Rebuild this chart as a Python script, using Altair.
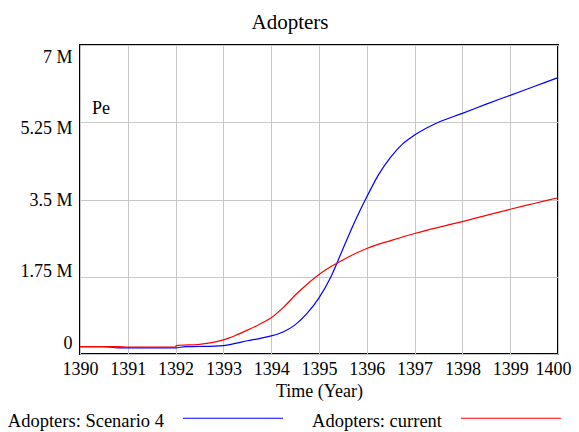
import altair as alt
import pandas as pd

years_s4 = [1390, 1390.5, 1390.8, 1391, 1391.5, 1392, 1392.2, 1392.5, 1393, 1393.25, 1393.5,
            1393.75, 1394, 1394.25, 1394.5, 1394.75, 1395, 1395.25, 1395.5, 1395.75, 1396,
            1396.25, 1396.5, 1396.75, 1397, 1397.5, 1398, 1398.5, 1399, 1399.5, 1400]
scenario4 = [0.165, 0.165, 0.14, 0.14, 0.14, 0.14, 0.165, 0.17, 0.19, 0.24, 0.30,
             0.35, 0.41, 0.50, 0.66, 0.92, 1.27, 1.75, 2.38, 3.00, 3.56,
             4.07, 4.46, 4.76, 4.96, 5.25, 5.45, 5.66, 5.86, 6.06, 6.26]

years_cur = [1390, 1390.8, 1391, 1391.5, 1392, 1392.01, 1392.5, 1393, 1393.25, 1393.5, 1393.75,
             1394, 1394.25, 1394.5, 1394.75, 1395, 1395.25, 1395.5, 1395.75, 1396, 1396.5,
             1397, 1397.5, 1398, 1398.5, 1399, 1399.5, 1400]
current = [0.165, 0.165, 0.155, 0.155, 0.155, 0.19, 0.22, 0.32, 0.42, 0.54, 0.67,
           0.82, 1.05, 1.33, 1.58, 1.80, 1.98, 2.13, 2.27, 2.39, 2.57,
           2.73, 2.87, 3.00, 3.14, 3.28, 3.41, 3.54]

series_names = ["Adopters: Scenario 4", "Adopters: current"]
series_colors = ["#0000FF", "#FF0000"]
y_ticks = [0, 1.75e6, 3.5e6, 5.25e6, 7e6]
x_ticks = list(range(1390, 1401))

df = pd.concat([
    pd.DataFrame({"year": years_s4, "value": [v * 1e6 for v in scenario4], "series": series_names[0]}),
    pd.DataFrame({"year": years_cur, "value": [v * 1e6 for v in current], "series": series_names[1]}),
])

FONT = "Liberation Serif"

lines = alt.Chart(df).mark_line(strokeWidth=1.2, interpolate="monotone").encode(
    x=alt.X("year:Q", scale=alt.Scale(domain=[1390, 1400], nice=False),
            axis=alt.Axis(values=x_ticks, format="d", title="Time (Year)", ticks=False, domain=False,
                          labelOverlap=False, labelFlush=False,
                          labelOffset=alt.ExprRef("datum.value == 1400 ? -5 : 0"),
                          labelPadding=6, titlePadding=4, gridColor="#C8C8C8", gridWidth=1)),
    y=alt.Y("value:Q", scale=alt.Scale(domain=[0, 7e6], nice=False),
            axis=alt.Axis(values=y_ticks, title=None, ticks=False, domain=False, labelPadding=8,
                          labelOverlap=False,
                          labelExpr="datum.value == 0 ? '0' : format(datum.value / 1e6, '') + ' M'",
                          labelOffset=alt.ExprRef("-11 + 23 * datum.value / 7000000"),
                          gridColor="#C8C8C8", gridWidth=1)),
    color=alt.Color("series:N", scale=alt.Scale(domain=series_names, range=series_colors),
                    legend=alt.Legend(title=None, orient="none", legendX=142, legendY=365,
                                      padding=0, direction="horizontal", columns=2,
                                      symbolType="M-5,-0.3H5", symbolSize=400,
                                      symbolStrokeWidth=1.2, symbolFillColor="transparent",
                                      labelAlign="right", labelOffset=alt.ExprRef("-80"),
                                      columnPadding=26,
                                      labelFont=FONT, labelFontSize=18.5, labelColor="black",
                                      labelLimit=300)),
)

note = alt.Chart(pd.DataFrame({"t": ["Pe"]})).mark_text(
    align="left", baseline="middle", font=FONT, fontSize=18, color="black"
).encode(x=alt.value(12), y=alt.value(64), text="t:N")

chart = alt.layer(lines, note).properties(
    width=478, height=309,
    background="white",
    title=alt.TitleParams("Adopters", font=FONT, fontSize=21, fontWeight="normal", color="black",
                          anchor="middle", frame="group", baseline="alphabetic", offset=18,
                          dx=-29, dy=23),
    autosize=alt.AutoSizeParams(type="none"),
    padding={"left": 72, "top": 37, "right": 13, "bottom": 78},
).configure_view(stroke="black", strokeWidth=2).configure_axis(
    labelFont=FONT, labelFontSize=18, labelColor="black", titleFont=FONT, titleFontSize=18,
    titleColor="black", titleFontWeight="normal"
)

chart.save("out.html", embed_options={"renderer": "svg", "actions": False})
